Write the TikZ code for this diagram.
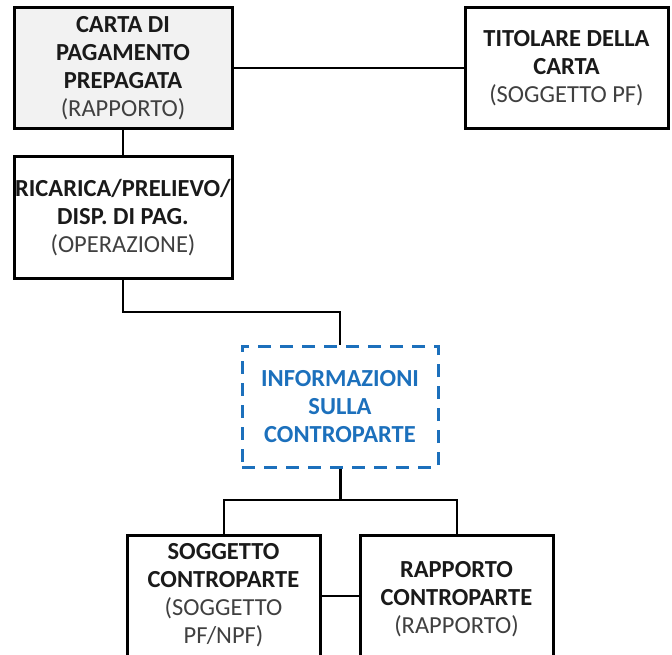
\documentclass[tikz,border=0pt]{standalone}
\usepackage{fontspec}
\setmainfont{Carlito}
\definecolor{txt}{HTML}{1A1A1A}
\definecolor{sub}{HTML}{404040}
\definecolor{blu}{HTML}{1C70BC}
\definecolor{fillg}{HTML}{F2F2F2}
\tikzset{
  box/.style={draw=black, line width=3pt, fill=white, align=center, inner sep=0pt,
    font=\fontsize{24.5}{28}\selectfont, text=txt},
  dbox/.style={draw=blu, line width=3pt, dash pattern=on 13pt off 9pt, align=center, inner sep=0pt,
    font=\fontsize{24.5}{28}\selectfont\bfseries, text=blu},
  conn/.style={draw=black, line width=2pt},
}
\newcommand{\subt}[1]{{\mdseries\color{sub}#1}}
\begin{document}
\begin{tikzpicture}[x=1pt,y=-1pt]
\useasboundingbox (0,0) rectangle (672,655);
\clip (0,0) rectangle (672,655);
\node[box, fill=fillg, minimum width=218pt, minimum height=121pt] (carta) at (123,68.5)
  {\textbf{CARTA DI}\\\textbf{PAGAMENTO}\\\textbf{PREPAGATA}\\\subt{(RAPPORTO)}};
\node[box, minimum width=203pt, minimum height=121pt] (tit) at (566.5,68.5)
  {\textbf{TITOLARE DELLA}\\\textbf{CARTA}\\\subt{(SOGGETTO PF)}};
\node[box, minimum width=218pt, minimum height=121pt] (ric) at (123,217.5)
  {\textbf{RICARICA/PRELIEVO/}\\\textbf{DISP. DI PAG.}\\\subt{(OPERAZIONE)}};
\node[dbox, minimum width=196pt, minimum height=121pt] (info) at (340,406.5)
  {INFORMAZIONI\\SULLA\\CONTROPARTE};
\node[box, minimum width=193pt, minimum height=121pt] (sogg) at (223.5,595.5)
  {\textbf{SOGGETTO}\\\textbf{CONTROPARTE}\\\subt{(SOGGETTO}\\\subt{PF/NPF)}};
\node[box, minimum width=193pt, minimum height=129pt] (rapp) at (456.5,599.5)
  {\textbf{RAPPORTO}\\\textbf{CONTROPARTE}\\\subt{(RAPPORTO)}};
\coordinate (j1) at (123,312);
\coordinate (j2) at (340,500);
\draw[conn] (carta.east) -- (tit.west);
\draw[conn] (carta.south) -- (ric.north);
\draw[conn] (ric.south) -- (j1) -| (info.north);
\draw[conn, line width=3pt] (info.south) -- (j2);
\draw[conn] (sogg.north) |- (j2) -| (rapp.north);
\draw[conn] (sogg.east) -- (rapp.west |- sogg.east);
\end{tikzpicture}
\end{document}
